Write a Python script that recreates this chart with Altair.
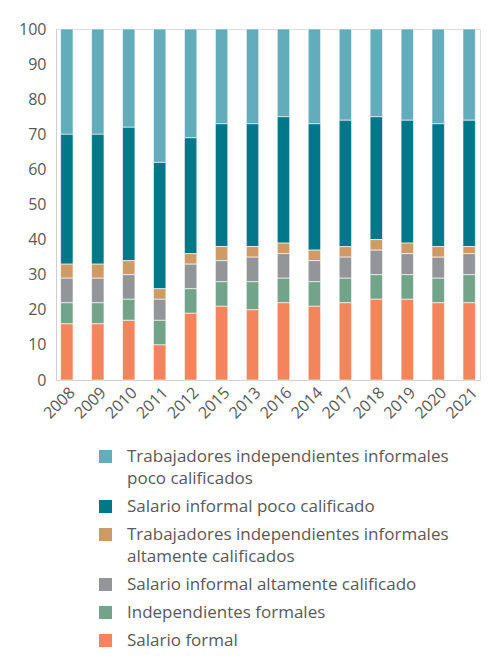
import altair as alt
import pandas as pd

years = ["2008", "2009", "2010", "2011", "2012", "2015", "2013", "2016",
         "2014", "2017", "2018", "2019", "2020", "2021"]

series_names = [
    "Trabajadores independientes informales|poco calificados",
    "Salario informal poco calificado",
    "Trabajadores independientes informales|altamente calificados",
    "Salario informal altamente calificado",
    "Independientes formales",
    "Salario formal",
]
colors = ["#62ACBC", "#00788A", "#CE9A66", "#939598", "#72A48A", "#F4845C"]

trab_ind_poco = [30, 30, 28, 38, 31, 27, 27, 25, 27, 26, 25, 26, 27, 26]
sal_inf_poco = [37, 37, 38, 36, 33, 35, 35, 36, 36, 36, 35, 35, 35, 36]
trab_ind_alt = [4, 4, 4, 3, 3, 4, 3, 3, 3, 3, 3, 3, 3, 2]
sal_inf_alt = [7, 7, 7, 6, 7, 6, 7, 7, 6, 6, 7, 6, 6, 6]
indep_formales = [6, 6, 6, 7, 7, 7, 8, 7, 7, 7, 7, 7, 7, 8]
salario_formal = [16, 16, 17, 10, 19, 21, 20, 22, 21, 22, 23, 23, 22, 22]

series_values = [trab_ind_poco, sal_inf_poco, trab_ind_alt,
                 sal_inf_alt, indep_formales, salario_formal]

rows = []
for s_idx, (name, vals) in enumerate(zip(series_names, series_values)):
    for y, v in zip(years, vals):
        rows.append({"year": y, "serie": name, "value": v,
                     "stack_order": len(series_names) - s_idx})
df = pd.DataFrame(rows)

FONT = "Open Sans"
TXT = "#595959"
LINE_H = 22

chart = alt.Chart(df).mark_bar(stroke="white", strokeWidth=0.6).encode(
    x=alt.X("year:N", sort=years, title=None,
            scale=alt.Scale(paddingInner=0.6, paddingOuter=0.15),
            axis=alt.Axis(labelAngle=-45, ticks=False, labelFontSize=16,
                          labelColor=TXT, labelFont=FONT, domainColor="#D0D0D0",
                          labelPadding=4)),
    y=alt.Y("value:Q", stack="zero", title=None,
            scale=alt.Scale(domain=[0, 100], nice=False),
            axis=alt.Axis(values=list(range(0, 101, 10)), grid=False, ticks=False,
                          labelFontSize=16, labelColor=TXT, labelFont=FONT,
                          domainColor="#D0D0D0", labelPadding=10)),
    color=alt.Color("serie:N", title=None,
                    scale=alt.Scale(domain=series_names, range=colors),
                    legend=alt.Legend(orient="none", legendX=41, legendY=419,
                                      direction="vertical", columns=1,
                                      symbolType="square", symbolSize=170,
                                      symbolStrokeWidth=0, symbolOpacity=1,
                                      labelFontSize=17, labelColor=TXT,
                                      labelFont=FONT, labelOffset=13,
                                      labelLimit=400, labelBaseline="middle",
                                      rowPadding=10,
                                      labelExpr="split(datum.label, '|')")),
    order=alt.Order("stack_order:Q", sort="ascending"),
).properties(
    width=424, height=351,
    padding={"left": 10, "top": 13, "right": 3, "bottom": 0},
).configure_view(stroke=None).configure(
    background="white",
    style={"guide-label": {"lineHeight": LINE_H}},
)

chart.save("out.html", embed_options={"renderer": "svg", "actions": False})
